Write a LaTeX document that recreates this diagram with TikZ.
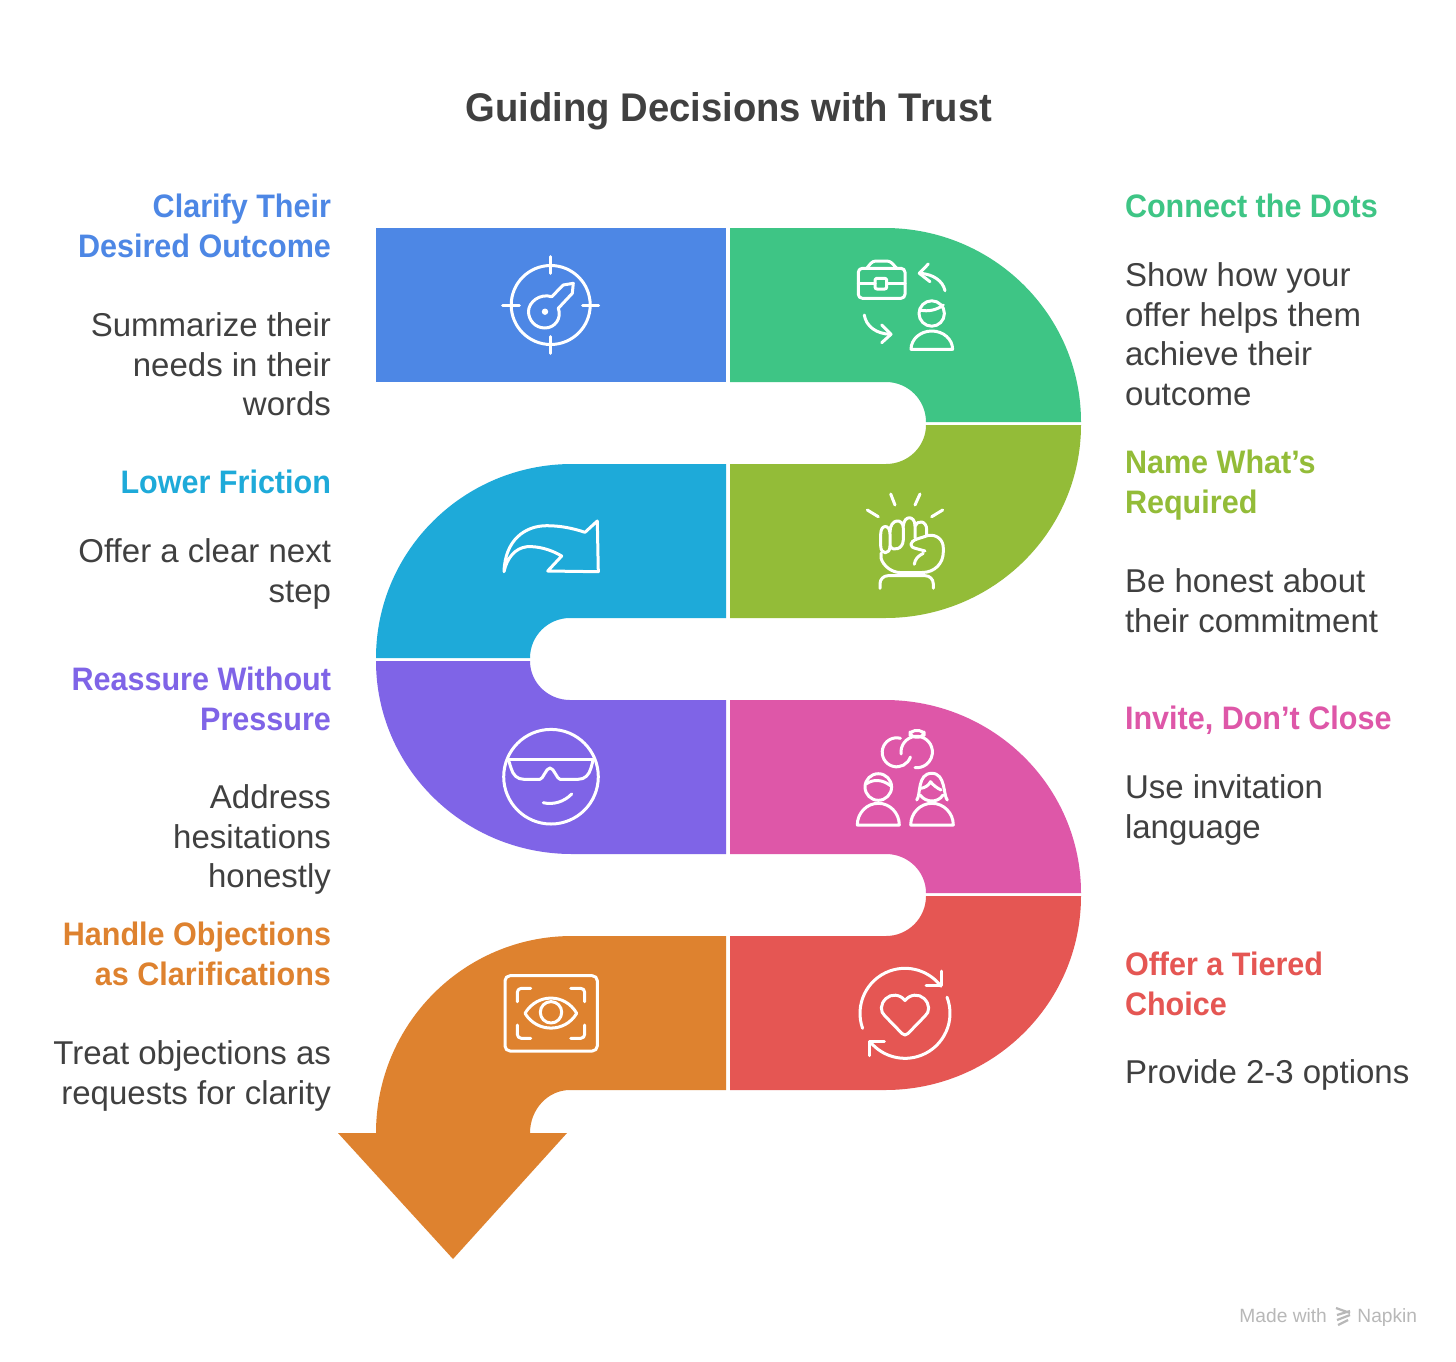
\documentclass[tikz,border=0pt]{standalone}
\usepackage{fontspec}
\setmainfont{Liberation Sans}
\newfontfamily\hdfont[BoldFeatures={FakeStretch=0.94}]{Liberation Sans}
\newfontfamily\ttlfont[BoldFeatures={FakeStretch=0.955}]{Liberation Sans}
\definecolor{cblue}{HTML}{4D87E5}
\definecolor{cgreen}{HTML}{3EC585}
\definecolor{clime}{HTML}{93BC38}
\definecolor{csky}{HTML}{1EAAD9}
\definecolor{cpurple}{HTML}{7F64E7}
\definecolor{cpink}{HTML}{DE57A8}
\definecolor{cred}{HTML}{E55653}
\definecolor{corange}{HTML}{DE822F}
\definecolor{ctext}{HTML}{404040}
\tikzset{
  txtbase/.style={inner sep=0pt,outer sep=0pt,yshift=13.8pt},
  leftblock/.style={txtbase,anchor=north east,align=right},
  rightblock/.style={txtbase,anchor=north west,align=left},
  body/.style={text=ctext,font=\fontsize{16.5}{19.7}\selectfont},
  head/.style={font=\hdfont\bfseries\fontsize{16.25}{19.7}\selectfont},
  ico/.style={draw=white,line width=1.5pt,line cap=round,line join=round},
}
\begin{document}
\begin{tikzpicture}[x=0.5pt,y=-0.5pt]
\useasboundingbox (0,0) rectangle (1456,1361);
\fill[white] (0,0) rectangle (1456,1361);

% ribbon segments
\fill[cblue] (376,228) rectangle (726,382);
\fill[cgreen] (730,228) -- (885,228) arc (-90:0:196 and 194) -- (926,422) arc (0:-90:40) -- (730,382) -- cycle;
\fill[clime] (730,464) -- (886,464) arc (90:0:40 and 39) -- (1081,425) arc (0:90:196 and 193) -- (730,618) -- cycle;
\fill[csky] (726,464) -- (572,464) arc (-90:-180:196 and 194) -- (530,658) arc (180:270:40) -- (726,618) -- cycle;
\fill[cpurple] (726,700) -- (570,700) arc (90:180:40 and 39) -- (376,661) arc (180:90:196 and 193) -- (726,854) -- cycle;
\fill[cpink] (730,700) -- (885,700) arc (-90:0:196 and 193) -- (926,893) arc (0:-90:40 and 39) -- (730,854) -- cycle;
\fill[cred] (730,936) -- (886,936) arc (90:0:40) -- (1081,896) arc (0:90:196 and 194) -- (730,1090) -- cycle;
\fill[corange] (726,936) -- (572,936) arc (-90:-180:196 and 197) -- (338,1133) -- (453,1259) -- (567,1133) -- (530,1133) arc (180:270:40 and 43) -- (726,1090) -- cycle;

% title
\node[inner sep=0pt,anchor=base,text=ctext,font=\ttlfont\bfseries\fontsize{20}{24}\selectfont] (title) at (729,121.5) {Guiding Decisions with Trust};

% left labels
\node[leftblock,head,text=cblue] (h1) at (331,218) {\strut Clarify Their\\Desired Outcome};
\node[leftblock,body] (b1) at (331,337) {\strut Summarize their\\needs in their\\words};
\node[leftblock,head,text=csky] (h3) at (331,494) {\strut Lower Friction};
\node[leftblock,body] (b3) at (331,563) {\strut Offer a clear next\\step};
\node[leftblock,head,text=cpurple] (h5) at (331,691) {\strut Reassure Without\\Pressure};
\node[leftblock,body] (b5) at (331,809) {\strut Address\\hesitations\\honestly};
\node[leftblock,head,text=corange] (h7) at (331,946) {\strut Handle Objections\\as Clarifications};
\node[leftblock,body] (b7) at (331,1065) {\strut Treat objections as\\requests for clarity};

% right labels
\node[rightblock,head,text=cgreen] (h2) at (1125,218) {\strut Connect the Dots};
\node[rightblock,body] (b2) at (1125,287) {\strut Show how your\\offer helps them\\achieve their\\outcome};
\node[rightblock,head,text=clime] (h4) at (1125,474) {\strut Name What’s\\Required};
\node[rightblock,body] (b4) at (1125,593) {\strut Be honest about\\their commitment};
\node[rightblock,head,text=cpink] (h6) at (1125,730) {\strut Invite, Don’t Close};
\node[rightblock,body] (b6) at (1125,799) {\strut Use invitation\\language};
\node[rightblock,head,text=cred] (h8) at (1125,976) {\strut Offer a Tiered\\Choice};
\node[rightblock,body] (b8) at (1125,1084) {\strut Provide 2-3 options};

% icon: target key
\draw[ico] (550.7,305) circle (39.5);
\draw[ico] (550.7,256.7) -- (550.7,273.3) (550.7,336.7) -- (550.7,353.3) (502.7,305) -- (519.3,305) (582.7,305) -- (598.7,305);
\draw[ico] (551.7,296.7) -- (563.3,285) -- (573.3,283.3) -- (572.3,293.3) -- (558.3,308.3)
  .. controls (562,318) and (555,328) .. (545,328) .. controls (535,328) and (528.5,320) .. (528.5,311.5) .. controls (528.5,302) and (540,293) .. (551.7,296.7);
\fill[white] (545,311.7) circle (3.2);

% icon: briefcase, arrows, person
\draw[ico,rounded corners=2pt] (858.3,268.3) rectangle (905,298.3);
\draw[ico] (858.3,283.3) -- (875,283.3) (886.7,283.3) -- (905,283.3);
\draw[ico,rounded corners=1pt] (875,278.3) rectangle (886.7,289);
\draw[ico,rounded corners=1.5pt] (866.7,268.3) -- (872.7,261) -- (890,261) -- (896.7,268.3);
\draw[ico] (945,290.7) .. controls (943,281) and (933,274) .. (920,273.3);
\draw[ico] (928.3,264) -- (919.3,273.3) -- (930,281.7);
\draw[ico] (864.3,315) .. controls (866,326) and (876,334) .. (890.7,334.3);
\draw[ico] (881.7,325) -- (891,334.3) -- (881.7,342.7);
\draw[ico] (931.7,313.5) circle (12.7);
\draw[ico] (920,310) .. controls (928,312) and (937,310) .. (943.3,305);
\draw[ico] (911,349.3) arc (180:360:20.8 and 18.3) -- cycle;

% icon: turn arrow
\draw[ico] (504,571.7) .. controls (505,540) and (525,525.7) .. (546.7,525.7) .. controls (560,525.7) and (572,528) .. (585,532.3)
  -- (597.3,521) -- (598.3,571.7) -- (547.7,571) -- (561.7,556) .. controls (550,549) and (537,546) .. (527,546.7) .. controls (515,548) and (507,558) .. (504,571.7);

% icon: fist
\draw[ico] (890.7,494) -- (895,505) (920,494) -- (915,505) (867.3,510) -- (878.3,516.7) (942.7,510) -- (931.7,516.7);
\draw[ico,rounded corners=4pt] (880,588.3) -- (880,575.7) -- (933.3,575.7) -- (933.3,588.3);
\draw[ico] (890,534) .. controls (890,524) and (880.7,524) .. (880.7,534) -- (880.7,546) .. controls (880.7,555) and (890,555) .. (890,546) -- cycle;
\draw[ico] (890,532) .. controls (890,518) and (903.3,518) .. (903.3,528) -- (903.3,540) .. controls (903,549) and (893,552) .. (890,546);
\draw[ico] (903.3,526) .. controls (904,515) and (915,515) .. (915,526) -- (915,538);
\draw[ico] (915,526) .. controls (917,520) and (926.7,520) .. (926.7,530) -- (926.7,535);
\draw[ico] (881,553) -- (881,558) .. controls (883,566) and (892,572.5) .. (900,572.5) -- (922,572.5) .. controls (935,572.5) and (943.3,563) .. (943.3,552) -- (943.3,548) .. controls (943.3,540) and (937,534) .. (928,535.5) -- (917,539) .. controls (909,542) and (909,547) .. (916,548.5) -- (925,551);
\draw[ico] (923.3,553.3) .. controls (918,556) and (915,559) .. (914.3,564.3);

% icon: sunglasses face
\draw[ico] (551,776.7) circle (47.3);
\draw[ico] (508.3,759.3) -- (593.3,759.3);
\draw[ico] (508.3,759.3) -- (511,768) .. controls (513,775) and (517,779.3) .. (524,779.3) -- (540,779.3) .. controls (543,779.3) and (546,768) .. (550,768) .. controls (554,768) and (557,779.3) .. (560,779.3) -- (578,779.3) .. controls (585,779.3) and (589,775) .. (591,768) -- (593.3,759.3);
\draw[ico] (543.3,802.7) .. controls (553,805) and (564,802) .. (571.7,794);

% icon: rings and couple
\draw[ico] (896.7,752.3) ++(-75:14.5) arc (-75:-341:14.5);
\draw[ico] (916.7,752) ++(-187:15.7) arc (-187:96:15.7);
\draw[ico,rounded corners=2.5pt] (910,730.5) rectangle (924,737);
\draw[ico] (878.3,787) circle (13.3);
\draw[ico] (866,784) .. controls (873,779) and (882,779) .. (891,786);
\draw[ico] (857.3,825) arc (180:360:21 and 21.7) -- cycle;
\draw[ico] (916.7,800) .. controls (921,795) and (917,773.3) .. (931.7,773.3) .. controls (946,773.3) and (943,795) .. (947.3,800);
\draw[ico] (920,795) .. controls (926,803) and (938,803) .. (943,795);
\draw[ico] (920.7,788.3) .. controls (925,788) and (929,785) .. (930.5,781.7) .. controls (933,785) and (937,788) .. (941,790);
\draw[ico] (910.7,825) arc (180:360:21.3 and 21.7) -- cycle;

% icon: eye
\draw[ico,rounded corners=2.5pt] (505,975.7) rectangle (597.3,1051);
\draw[ico,rounded corners=2pt] (517.3,1001.7) -- (517.3,988.3) -- (530.7,988.3);
\draw[ico,rounded corners=2pt] (570.7,988.3) -- (584.7,988.3) -- (584.7,1001.7);
\draw[ico,rounded corners=2pt] (517.3,1025) -- (517.3,1038.3) -- (530.7,1038.3);
\draw[ico,rounded corners=2pt] (570.7,1038.3) -- (584.7,1038.3) -- (584.7,1025);
\draw[ico] (525,1013.3) .. controls (537,993) and (565,993) .. (576.7,1013.3) .. controls (565,1033) and (537,1033) .. (525,1013.3) -- cycle;
\draw[ico] (551,1012.3) circle (10.7);

% icon: heart cycle
\draw[ico] (905,1013.3) ++(-199.5:45) arc (-199.5:-37:45);
\draw[ico] (941.7,971) -- (941.7,985.7) -- (926,985.7);
\draw[ico] (905,1013.3) ++(-21:45) arc (-21:140:45);
\draw[ico] (869.3,1055.7) -- (869.3,1041) -- (884.3,1041);
\draw[ico] (905,1000.5) .. controls (900,994) and (891,993.5) .. (886,998.5) .. controls (880,1004) and (880,1012) .. (885,1016) -- (902,1033.5) .. controls (904,1035.5) and (906,1035.5) .. (908,1033.5) -- (925,1016) .. controls (930,1012) and (930,1004) .. (924,998.5) .. controls (919,993.5) and (910,994) .. (905,1000.5) -- cycle;

% footer
\node[inner sep=0pt,anchor=base west,text=black!28,font=\fontsize{9.6}{11}\selectfont] (made) at (1239,1322) {Made with};
\node[inner sep=0pt,anchor=base west,text=black!28,font=\fontsize{9.6}{11}\selectfont] (napkin) at (1357,1322) {Napkin};
\draw[black!28,line width=1.1pt] (1336,1308) -- (1350,1313) (1337,1315) -- (1350,1311) (1337,1320) -- (1350,1315) (1338,1325) -- (1348,1320);
\end{tikzpicture}
\end{document}
